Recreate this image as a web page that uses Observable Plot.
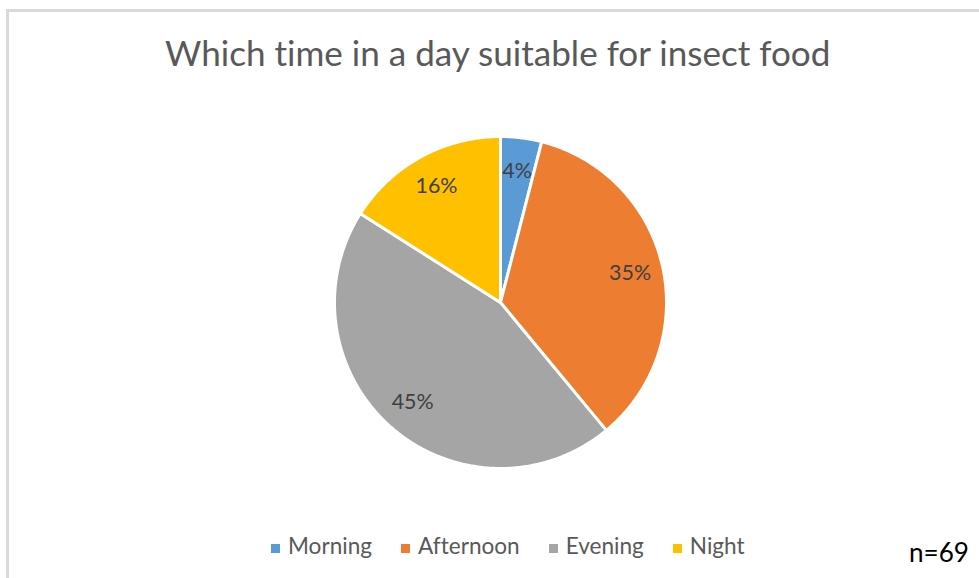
<!DOCTYPE html>
<html>
<head>
<meta charset="utf-8">
<script src="https://cdn.jsdelivr.net/npm/d3@7"></script>
<script src="https://cdn.jsdelivr.net/npm/@observablehq/plot@0.6"></script>
<style>
  html, body { margin: 0; padding: 0; background: #fff; width: 979px; height: 578px; overflow: hidden; }
  * { font-variant-ligatures: none; font-feature-settings: "liga" 0, "clig" 0; }
  #frame { position: absolute; left: 6px; top: 9px; width: 1100px; height: 700px;
           border-top: 3px solid #d9d9d9; border-left: 3px solid #d9d9d9; }
  #chart { position: absolute; left: 0; top: 0; }
  .txt { position: absolute; font-family: Lato, "Open Sans", sans-serif; white-space: nowrap; }
  #title { color: #595959; }
  #legend { position: absolute; display: flex; align-items: center; font-family: Lato, "Open Sans", sans-serif; color: #595959; white-space: nowrap; }
  #legend .item { display: flex; align-items: center; }
  #legend .sw { display: inline-block; width: 9px; height: 9px; margin-right: 8px; transform: translateY(2px); }
  #note { color: #000; }
</style>
</head>
<body>
<div id="frame"></div>
<div id="chart"></div>
<div id="title" class="txt"></div>
<div id="legend"></div>
<div id="note" class="txt"></div>
<script>
const categories = ["Morning", "Afternoon", "Evening", "Night"];
const percents = [4, 35, 45, 16];
const colors = ["#5B9BD5", "#ED7D31", "#A5A5A5", "#FFC000"];
const titleText = "Which time in a day suitable for insect food";
const noteText = "n=69";

const FONT = "Lato";
const cv = document.createElement("canvas").getContext("2d");
function fit(text, target) {
  cv.font = `100px ${FONT}`;
  return 100 * target / cv.measureText(text).width;
}

// pie geometry from data
const arcs = d3.pie().sort(null).value(d => d.value)(
  categories.map((name, i) => ({name, value: percents[i]}))
);
const pts = [];
for (const a of arcs) {
  pts.push({name: a.data.name, x: 0, y: 0});
  const n = Math.max(2, Math.ceil((a.endAngle - a.startAngle) / (Math.PI / 360)));
  for (let k = 0; k <= n; k++) {
    const t = a.startAngle + (a.endAngle - a.startAngle) * k / n;
    pts.push({name: a.data.name, x: Math.sin(t), y: Math.cos(t)});
  }
}
const labels = arcs.map(a => {
  const m = (a.startAngle + a.endAngle) / 2;
  return {x: 0.8 * Math.sin(m), y: 0.8 * Math.cos(m), text: a.data.value + "%"};
});

const labelFs = fit("45%", 42);

const chart = Plot.plot({
  width: 979,
  height: 578,
  margin: 0,
  style: {background: "transparent"},
  x: {domain: [-1, 1], range: [334, 666], axis: null},
  y: {domain: [-1, 1], range: [468, 136], axis: null},
  color: {domain: categories, range: colors},
  marks: [
    Plot.line(pts, {x: "x", y: "y", z: "name", fill: "name", stroke: "white", strokeWidth: 3, curve: "linear-closed"}),
    Plot.text(labels, {x: "x", y: "y", text: "text", fill: "#404040", fontSize: labelFs, fontFamily: FONT})
  ]
});
document.getElementById("chart").appendChild(chart);

// title
const tFs = fit(titleText, 668);
const title = document.getElementById("title");
title.textContent = titleText;
title.style.fontSize = tFs + "px";
title.style.lineHeight = tFs + "px";
title.style.left = "165px";
title.style.top = (66 - 0.887 * tFs) + "px";

// legend
const lFs = fit("Morning", 84);
const legend = document.getElementById("legend");
legend.style.fontSize = lFs + "px";
legend.style.lineHeight = lFs + "px";
legend.style.left = "271px";
legend.style.top = (555 - 0.887 * lFs) + "px";
categories.forEach((c, i) => {
  const item = document.createElement("span");
  item.className = "item";
  if (i < categories.length - 1) item.style.marginRight = "29px";
  const sw = document.createElement("span");
  sw.className = "sw";
  sw.style.background = colors[i];
  const tx = document.createElement("span");
  tx.textContent = c;
  item.appendChild(sw); item.appendChild(tx);
  legend.appendChild(item);
});

// note
const nFs = fit(noteText, 60);
const note = document.getElementById("note");
note.textContent = noteText;
note.style.fontSize = nFs + "px";
note.style.lineHeight = nFs + "px";
note.style.left = "909px";
note.style.top = (562 - 0.887 * nFs) + "px";
</script>
</body>
</html>
